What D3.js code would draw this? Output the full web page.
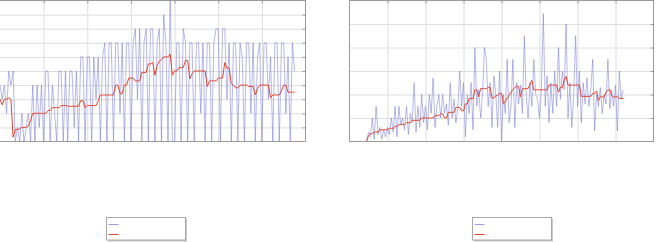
<!DOCTYPE html>
<html><head><meta charset="utf-8">
<script src="https://cdn.jsdelivr.net/npm/d3@7"></script>
<style>html,body{margin:0;padding:0;background:#fff;overflow:hidden}</style>
</head><body>
<svg id="c" width="656" height="242"></svg>
<script>
// ---- data ----
const leftXTicks = [0,100,200,300,400,500,600,700];
const leftYTicks = [0,1,2,3,4,5,6,7,8,9,10];
const rightXTicks = [0,100,200,300,400,500,600,700,800];
const rightYTicks = [0,1,2,3,4,5,6];
const leftStart = 0, leftStep = 5;
const rightStart = 45, rightStep = 5;
const leftBlue = [
4,3,4,2,5,4,5,0,1,0,
2,0,1,2,0,4,0,4,1,4,
0,5,5,0,4,2,0,5,5,0,
5,0,5,5,1,5,0,6,6,0,
6,6,0,6,3,6,0,6,7,0,
7,7,0,7,7,2,7,0,7,7,
0,7,8,3,8,0,7,8,0,8,
8,0,7,8,0,9,7,0,11,0,
0,7,7,0,8,7,0,7,7,0,
7,7,2,7,0,7,7,0,7,8,
8,0,8,8,3,7,0,7,7,0,
7,6,0,7,7,2,7,0,6,7,
0,7,7,3,6,0,7,7,0,7,
7,2,6,0,7,5];
const leftRed = [
3.0,2.6,3.0,3.0,3.1,3.0,0.3,0.85,0.85,0.9,
1.0,1.0,1.0,1.1,1.5,2.0,2.0,2.0,2.0,2.0,
2.0,2.0,2.2,2.2,2.4,2.4,2.4,2.4,2.55,2.55,
2.55,2.5,2.5,2.5,2.5,2.5,2.5,2.9,2.9,2.4,
2.55,2.55,2.55,2.55,2.55,2.9,3.3,3.3,3.3,3.3,
3.3,3.3,3.3,4.0,4.0,3.4,3.4,4.0,4.0,4.5,
4.5,4.5,4.3,4.3,4.3,4.9,4.9,4.9,5.5,5.5,
5.6,4.7,5.4,5.7,5.8,6.0,6.0,6.0,6.2,4.7,
5.0,5.0,5.25,5.25,5.25,5.75,5.75,4.45,4.8,5.0,
5.0,5.0,5.0,5.0,5.0,3.9,4.3,4.3,4.3,4.3,
4.5,4.5,4.5,5.6,5.2,5.2,4.1,4.0,3.8,3.8,
4.0,4.0,4.0,4.0,3.9,3.9,3.9,3.3,3.75,4.0,
4.0,4.0,4.0,4.0,3.1,3.3,3.3,3.3,3.3,3.6,
4.0,4.0,3.5,3.5,3.5,3.5];
const rightBlue = [
0,0.4,0.2,1.0,0.1,1.5,0.3,0.6,0.1,0.5,
0.2,0.6,0.3,1.0,0.4,1.5,0.2,1.5,0.7,1.0,
0.5,1.5,0.3,1.2,0.8,2.5,0.4,1.5,0.6,2.0,
0.8,1.5,0.5,2.0,1.2,2.7,0.6,1.5,2.0,1.0,
2.0,1.2,1.6,0.7,2.5,1.0,1.8,0.8,1.4,3.0,
1.5,2.5,0.2,2.0,1.2,2.5,0.5,4.0,1.5,2.2,
1.0,2.0,4.0,3.5,1.5,2.5,0.6,2.8,2.0,0.6,
3.0,0.0,2.0,1.2,3.5,0.8,1.5,3.5,0.6,2.5,
1.6,2.4,1.2,4.5,2.0,1.0,2.5,1.5,3.5,2.0,
1.8,1.0,2.2,5.45,1.5,2.8,0.8,2.5,1.2,3.0,
1.5,4.0,1.8,3.0,2.2,5.0,1.0,2.5,0.6,2.0,
4.5,1.5,3.0,0.8,2.5,1.6,2.7,1.5,2.2,3.5,
0.45,2.0,1.5,2.3,1.2,2.0,1.6,3.5,1.4,2.2,
1.5,2.4,0.45,3.0,1.8,2.2];
const rightRed = [
0.0,0.25,0.33,0.33,0.4,0.4,0.4,0.5,0.5,0.5,
0.5,0.5,0.56,0.56,0.56,0.64,0.64,0.72,0.72,0.72,
0.72,0.8,0.8,0.8,0.9,0.9,0.9,0.9,0.9,1.0,
1.0,1.0,1.0,1.0,1.0,1.0,1.1,1.1,1.1,1.18,
1.18,1.0,1.0,1.24,1.24,1.24,1.24,1.45,1.45,1.45,
1.3,1.3,1.6,1.6,1.83,1.83,1.83,2.2,2.2,1.9,
2.25,2.25,2.25,2.25,2.3,2.3,1.85,1.85,1.95,1.95,
2.05,2.05,1.6,1.7,1.85,1.95,2.1,2.2,2.3,2.35,
2.35,1.9,2.25,2.25,2.25,2.25,2.45,2.6,2.2,2.2,
2.2,2.2,2.2,2.2,2.2,2.2,2.4,2.4,2.4,2.4,
2.4,2.1,2.3,2.3,2.6,2.77,2.4,2.4,2.4,2.4,
2.4,2.4,2.4,1.92,1.92,1.92,1.92,1.92,1.92,2.05,
2.05,2.15,1.75,1.9,1.9,1.9,2.1,2.2,2.2,1.95,
1.9,1.9,1.9,1.83,1.83,1.83];

// ---- drawing ----
const svg = d3.select('#c');
const BLUE = '#7272d8', RED = '#e4462e', GRID = '#dedede', AXIS = '#9a9a9a';

function panel(id, x0, x1, y0, y1, xDom, yDom, xTicks, yTicks, blue, red, start, step) {
  const x = d3.scaleLinear().domain(xDom).range([x0, x1]);
  const y = d3.scaleLinear().domain(yDom).range([y1, y0]);
  const g = svg.append('g');
  g.append('clipPath').attr('id', id).append('rect')
    .attr('x', x0).attr('y', y0).attr('width', x1 - x0).attr('height', y1 - y0);
  // grid via axes
  g.append('g').attr('transform', `translate(0,${y1})`)
    .call(d3.axisBottom(x).tickValues(xTicks.slice(1, -1)).tickSize(-(y1 - y0)).tickFormat(''))
    .call(s => { s.select('.domain').remove(); s.selectAll('line').attr('stroke', GRID).attr('stroke-width', 1); });
  g.append('g').attr('transform', `translate(${x0},0)`)
    .call(d3.axisLeft(y).tickValues(yTicks.slice(1, -1)).tickSize(-(x1 - x0)).tickFormat(''))
    .call(s => { s.select('.domain').remove(); s.selectAll('line').attr('stroke', GRID).attr('stroke-width', 1); });
  // small inner ticks on right side
  g.append('g').attr('transform', `translate(${x1},0)`)
    .call(d3.axisRight(y).tickValues(yTicks.slice(1, -1)).tickSize(-3).tickFormat(''))
    .call(s => { s.select('.domain').remove(); s.selectAll('line').attr('stroke', AXIS); });
  g.append('g').attr('transform', `translate(0,${y0})`)
    .call(d3.axisTop(x).tickValues(xTicks.slice(1, -1)).tickSize(-3).tickFormat(''))
    .call(s => { s.select('.domain').remove(); s.selectAll('line').attr('stroke', AXIS); });
  const line = d3.line().x((d, i) => x(start + i * step)).y(d => y(d));
  g.append('path').attr('clip-path', `url(#${id})`).datum(blue).attr('d', line)
    .attr('fill', 'none').attr('stroke', BLUE).attr('stroke-width', 0.6).attr('stroke-opacity', 0.85);
  g.append('path').attr('clip-path', `url(#${id})`).datum(red).attr('d', line)
    .attr('fill', 'none').attr('stroke', RED).attr('stroke-width', 1);
  g.append('rect').attr('x', x0).attr('y', y0).attr('width', x1 - x0).attr('height', y1 - y0)
    .attr('fill', 'none').attr('stroke', AXIS).attr('stroke-width', 1);
}

panel('cl', -2, 305.5, 0.5, 141.5, [-4.6, 700], [0, 10], leftXTicks, leftYTicks, leftBlue, leftRed, leftStart, leftStep);
panel('cr', 349.5, 653.5, 0.5, 141.5, [0, 800], [0, 6], rightXTicks, rightYTicks, rightBlue, rightRed, rightStart, rightStep);

function legend(lx) {
  const g = svg.append('g');
  g.append('rect').attr('x', lx + 1.5).attr('y', 218.5).attr('width', 79).attr('height', 23)
    .attr('fill', '#c8c8c8');
  g.append('rect').attr('x', lx).attr('y', 217.5).attr('width', 79).attr('height', 22.5)
    .attr('fill', '#fff').attr('stroke', '#a8a8a8').attr('stroke-width', 1);
  g.append('line').attr('x1', lx + 2).attr('x2', lx + 12).attr('y1', 224.5).attr('y2', 224.5)
    .attr('stroke', BLUE).attr('stroke-width', 1).attr('stroke-opacity', 0.7);
  g.append('line').attr('x1', lx + 2).attr('x2', lx + 12).attr('y1', 234.5).attr('y2', 234.5)
    .attr('stroke', RED).attr('stroke-width', 1);
}
legend(106.5);
legend(472.5);
</script>
</body></html>
